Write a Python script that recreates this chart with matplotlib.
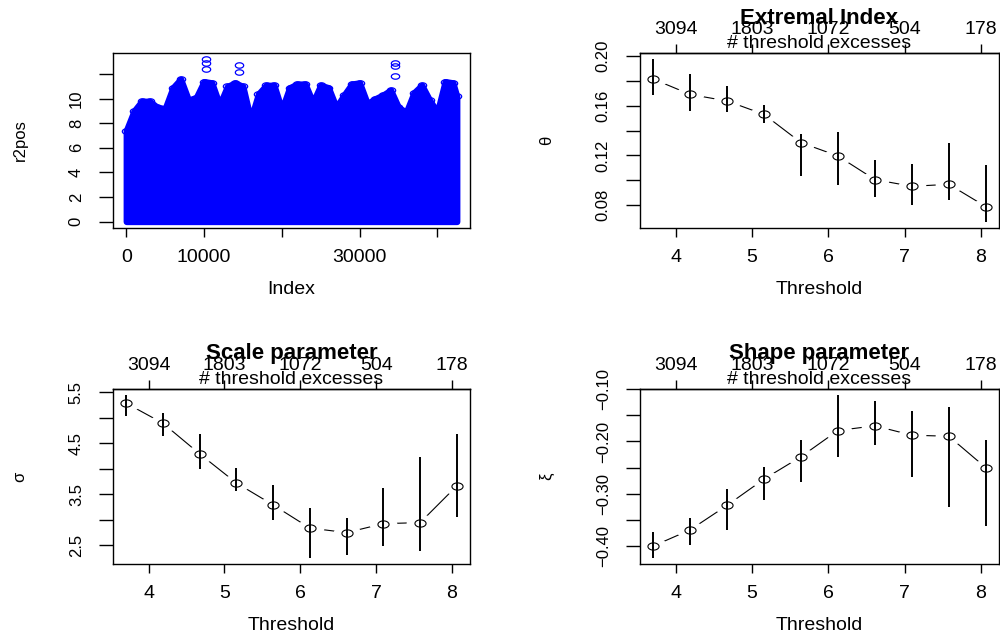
import numpy as np
import matplotlib
matplotlib.use("Agg")
import matplotlib.pyplot as plt
from matplotlib.path import Path

plt.rcParams['font.family'] = ['Liberation Sans', 'DejaVu Sans']

# ---------------- data ----------------
# r2pos: upper envelope of the dense point cloud (value read every 1000 obs)
r2_index = [0, 1000, 2000, 3000, 4000, 5000, 6000, 7000, 8000, 9000,
            10000, 11000, 12000, 13000, 14000, 15000, 16000, 17000, 18000, 19000,
            20000, 21000, 22000, 23000, 24000, 25000, 26000, 27000, 28000, 29000,
            30000, 31000, 32000, 33000, 34000, 35000, 36000, 37000, 38000, 39000,
            40000, 41000, 42000, 42500]
r2_top = [7.4, 9.0, 9.8, 9.8, 9.3, 9.2, 10.9, 11.6, 9.9, 10.1,
          11.4, 11.3, 9.5, 11.0, 11.3, 11.0, 8.3, 10.4, 11.1, 11.1,
          9.1, 10.9, 11.2, 11.2, 9.7, 11.1, 10.9, 9.3, 10.3, 11.2,
          11.3, 9.6, 10.0, 10.3, 10.7, 9.3, 8.9, 10.5, 11.1, 9.9,
          8.9, 11.4, 11.3, 10.2]
# isolated high observations above the cloud
out_index = [10200, 10200, 10200, 14500, 14500, 34500, 34500, 34500]
out_value = [13.2, 12.95, 12.4, 12.75, 12.15, 12.95, 12.7, 11.85]

thresholds = [3.706, 4.19, 4.675, 5.157, 5.643, 6.125, 6.611, 7.095, 7.58, 8.063]
top_ticks = [4, 5, 6, 7, 8]
top_labels = ['3094', '1803', '1072', '504', '178']

theta = [0.1815, 0.1691, 0.1638, 0.1530, 0.1302, 0.1195, 0.1004, 0.0950, 0.0966, 0.0787]
theta_lo = [0.1686, 0.1560, 0.1546, 0.1463, 0.1036, 0.0958, 0.0864, 0.0803, 0.0840, 0.0666]
theta_hi = [0.1973, 0.1855, 0.1758, 0.1603, 0.1375, 0.1385, 0.1160, 0.1128, 0.1297, 0.1125]

sigma = [5.284, 4.892, 4.290, 3.722, 3.290, 2.838, 2.748, 2.924, 2.944, 3.663]
sigma_lo = [5.043, 4.650, 3.997, 3.565, 2.990, 2.260, 2.317, 2.480, 2.389, 3.046]
sigma_hi = [5.436, 5.101, 4.680, 4.016, 3.676, 3.235, 3.040, 3.617, 4.232, 4.680]

xi = [-0.400, -0.369, -0.322, -0.272, -0.229, -0.179, -0.170, -0.188, -0.190, -0.250]
xi_lo = [-0.422, -0.398, -0.369, -0.312, -0.278, -0.230, -0.206, -0.267, -0.326, -0.361]
xi_hi = [-0.374, -0.347, -0.290, -0.248, -0.197, -0.112, -0.122, -0.141, -0.134, -0.197]

# ---------------- style helpers ----------------
t = np.linspace(0, 2 * np.pi, 64)
ELL = Path(np.column_stack([np.cos(t), 0.65 * np.sin(t)]), closed=True)

W, H = 1000, 636
fig = plt.figure(figsize=(W / 100, H / 100), dpi=100)


def add_box(x0, y0, x1, y1):
    return fig.add_axes([x0 / W, 1 - y1 / H, (x1 - x0) / W, (y1 - y0) / H])


TICK_FS = 14
ROT_FS = 12
LAB_FS = 14


def style_axes(ax, xticks, xlabels, yticks, ylabels, xlab, ylab):
    for s in ax.spines.values():
        s.set_linewidth(1.0)
        s.set_zorder(6)
    ax.set_xticks(xticks)
    ax.set_xticklabels(xlabels)
    ax.set_yticks(yticks)
    ax.set_yticklabels(ylabels)
    ax.tick_params(axis='x', length=6.5, width=1.0, labelsize=TICK_FS, pad=8.5)
    ax.tick_params(axis='y', length=10, width=1.0, labelsize=ROT_FS, pad=11)
    plt.setp(ax.get_yticklabels(), rotation=90, va='center', ha='right')
    ax.set_xlabel(xlab, fontsize=LAB_FS, va='center')
    ax.xaxis.set_label_coords(0.5, -62 / 175)
    ax.set_ylabel(ylab, fontsize=ROT_FS, va='center')
    ax.yaxis.set_label_coords(-93 / 357, 0.5)


# ---------------- panel 1: r2pos vs Index ----------------
ax1 = add_box(113, 53, 470, 228)
poly = ax1.fill_between(r2_index, 0, r2_top, facecolor='#0000ff', edgecolor='#0000ff',
                        linewidth=4.5, zorder=1)
poly.set_joinstyle('round')
ax1.plot(r2_index, r2_top, ls='none', marker=ELL, ms=6, mfc='none', mec='#0000ff',
         mew=0.9, zorder=2)
ax1.plot(out_index, out_value, ls='none', marker=ELL, ms=6, mfc='none', mec='#0000ff',
         mew=0.9, zorder=2)
ax1.margins(0.04)
ax1.set_xlim(-1700, 44200)
style_axes(ax1, [0, 10000, 20000, 30000, 40000], ['0', '10000', '', '30000', ''],
           [0, 2, 4, 6, 8, 10, 12], ['0', '2', '4', '6', '8', '10', ''],
           'Index', 'r2pos')


# ---------------- threshold panels ----------------
def param_panel(box, est, lo, hi, ylab, title, yticks, ylabels):
    ax = add_box(*box)
    ax.plot(thresholds, est, color='black', lw=0.8, zorder=1)
    ax.plot(thresholds, est, ls='none', marker=ELL, ms=20, mfc='white', mec='white',
            mew=0, zorder=2)
    ax.vlines(thresholds, lo, hi, color='black', lw=1.4, zorder=3)
    ax.plot(thresholds, est, ls='none', marker=ELL, ms=8, mfc='none', mec='black',
            mew=0.8, zorder=4)
    ax.margins(0.04)
    style_axes(ax, top_ticks, [str(v) for v in top_ticks], yticks, ylabels,
               'Threshold', ylab)
    sec = ax.secondary_xaxis('top')
    sec.set_xticks(top_ticks)
    sec.set_xticklabels(top_labels)
    sec.tick_params(length=6.5, width=1.0, labelsize=TICK_FS, pad=4.5)
    for s in sec.spines.values():
        s.set_linewidth(1.0)
    ax.text(0.5, 1 + 9.5 / 175, '# threshold excesses', transform=ax.transAxes,
            ha='center', va='center', fontsize=LAB_FS, zorder=7)
    ax.text(0.5, 1 + 35 / 175, title, transform=ax.transAxes, ha='center',
            va='center', fontsize=16, fontweight='bold', zorder=7)
    return ax


param_panel((640, 53, 999, 228), theta, theta_lo, theta_hi, 'θ', 'Extremal Index',
            [0.08, 0.10, 0.12, 0.14, 0.16, 0.18, 0.20],
            ['0.08', '', '0.12', '', '0.16', '', '0.20'])
param_panel((113, 389, 470, 564), sigma, sigma_lo, sigma_hi, 'σ', 'Scale parameter',
            [2.5, 3.0, 3.5, 4.0, 4.5, 5.0, 5.5],
            ['2.5', '', '3.5', '', '4.5', '', '5.5'])
param_panel((640, 389, 999, 564), xi, xi_lo, xi_hi, 'ξ', 'Shape parameter',
            [-0.40, -0.35, -0.30, -0.25, -0.20, -0.15, -0.10],
            ['\u22120.40', '', '\u22120.30', '', '\u22120.20', '', '\u22120.10'])

fig.savefig('out.png', dpi=100)
